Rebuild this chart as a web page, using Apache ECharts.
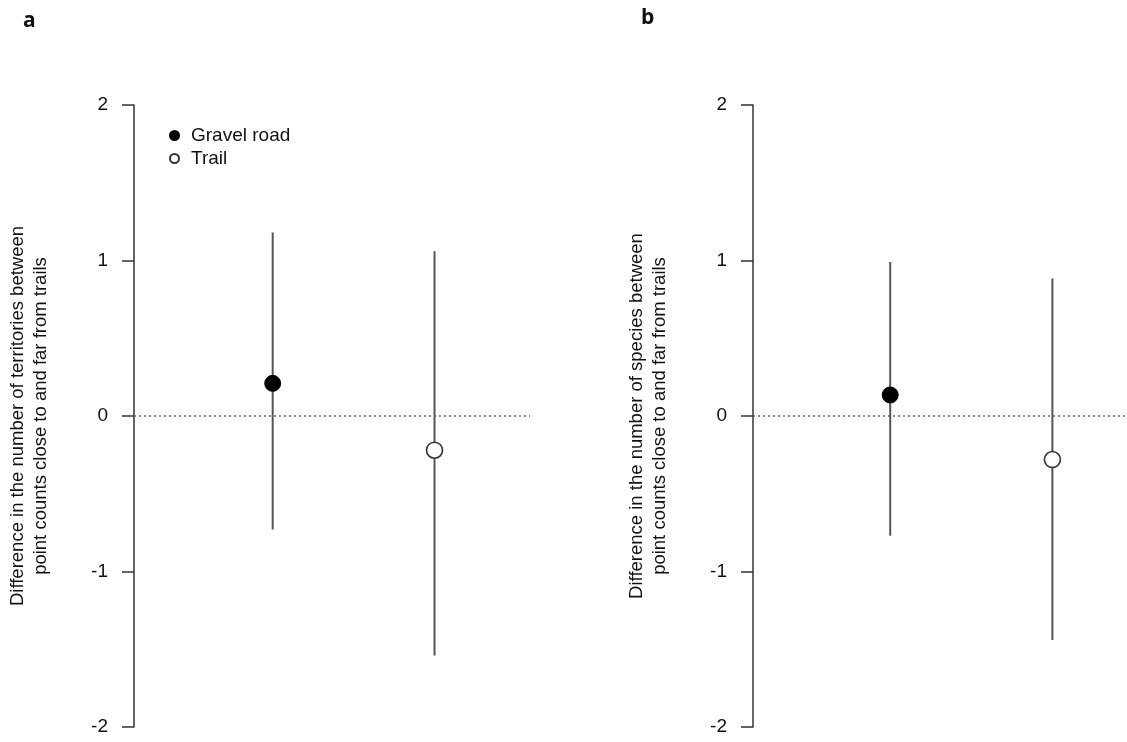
<!DOCTYPE html>
<html>
<head>
<meta charset="utf-8">
<script src="https://cdn.jsdelivr.net/npm/echarts@6/dist/echarts.min.js"></script>
<style>
html,body{margin:0;padding:0;background:#fff;}
#chart{width:1127px;height:742px;}
</style>
</head>
<body>
<div id="chart"></div>
<script>
// ---- data ----
const groups = ['Gravel road', 'Trail'];
const groupX = [1, 2];
const yTicks = [-2, -1, 0, 1, 2];
const panelLabels = ['a', 'b'];
const yTitles = [
  'Difference in the number of territories between\npoint counts close to and far from trails',
  'Difference in the number of species between\npoint counts close to and far from trails'
];
const territoriesMean = [0.21, -0.22];
const territoriesLow = [-0.73, -1.54];
const territoriesHigh = [1.18, 1.06];
const speciesMean = [0.135, -0.28];
const speciesLow = [-0.77, -1.44];
const speciesHigh = [0.99, 0.885];

const FONT = '"Liberation Sans", Arial, sans-serif';
const panels = [
  {mean: territoriesMean, low: territoriesLow, high: territoriesHigh, xmin: 0.143, xmax: 2.59},
  {mean: speciesMean, low: speciesLow, high: speciesHigh, xmin: 0.154, xmax: 2.46}
];
const grids = [
  {left: 134, top: 105, width: 396, height: 622},
  {left: 753, top: 105, width: 374, height: 622}
];

const xAxes = [], yAxes = [], series = [];
panels.forEach((p, i) => {
  xAxes.push({gridIndex: i, type: 'value', min: p.xmin, max: p.xmax, show: false});
  yAxes.push({
    gridIndex: i, type: 'value', min: yTicks[0], max: yTicks[yTicks.length - 1], interval: 1,
    name: yTitles[i], nameLocation: 'middle', nameGap: 82,
    nameTextStyle: {fontFamily: FONT, fontSize: 18.5, color: '#111', lineHeight: 23},
    axisLine: {show: true, lineStyle: {color: '#333', width: 1.5}},
    axisTick: {show: true, length: 12, lineStyle: {color: '#333', width: 1.5}},
    axisLabel: {fontFamily: FONT, fontSize: 19, color: '#111', margin: 26},
    splitLine: {show: false}
  });
  // zero reference line
  series.push({
    type: 'line', xAxisIndex: i, yAxisIndex: i, silent: true, symbol: 'none',
    data: [[p.xmin, 0], [p.xmax, 0]],
    lineStyle: {color: '#666', width: 1.5, type: [2, 3]}, z: 1
  });
  // error bars
  series.push({
    type: 'custom', xAxisIndex: i, yAxisIndex: i, silent: true, z: 2,
    data: groupX.map((x, k) => [x, p.low[k], p.high[k]]),
    encode: {x: 0, y: [1, 2]},
    renderItem: function (params, api) {
      const a = api.coord([api.value(0), api.value(1)]);
      const b = api.coord([api.value(0), api.value(2)]);
      return {type: 'line', shape: {x1: a[0], y1: a[1], x2: b[0], y2: b[1]},
        style: {stroke: '#555', lineWidth: 2}};
    }
  });
  // points
  series.push({
    name: groups[0], type: 'scatter', xAxisIndex: i, yAxisIndex: i, z: 3,
    symbol: 'circle', symbolSize: 16,
    itemStyle: {color: '#000', borderColor: '#000', borderWidth: 1, opacity: 1},
    data: [[groupX[0], p.mean[0]]]
  });
  series.push({
    name: groups[1], type: 'scatter', xAxisIndex: i, yAxisIndex: i, z: 3,
    symbol: 'circle', symbolSize: 16,
    itemStyle: {color: '#fff', borderColor: '#333', borderWidth: 1.6, opacity: 1},
    data: [[groupX[1], p.mean[1]]]
  });
});

const chart = echarts.init(document.getElementById('chart'), null, {renderer: 'canvas'});
chart.setOption({
  backgroundColor: '#fff',
  animation: false,
  title: [
    {text: panelLabels[0], left: 18, top: 6, textStyle: {fontFamily: '"Open Sans", "DejaVu Sans", sans-serif', fontSize: 21, fontWeight: 'bold', color: '#111'}},
    {text: panelLabels[1], left: 636, top: 3, textStyle: {fontFamily: '"Open Sans", "DejaVu Sans", sans-serif', fontSize: 21, fontWeight: 'bold', color: '#111'}}
  ],
  legend: {
    data: groups, orient: 'vertical', left: 164, top: 121,
    icon: 'circle', itemWidth: 9, itemHeight: 9, itemGap: 4,
    textStyle: {fontFamily: FONT, fontSize: 19, color: '#111', padding: [0, 0, 0, 7]},
    selectedMode: false
  },
  grid: grids,
  xAxis: xAxes,
  yAxis: yAxes,
  series: series
});
</script>
</body>
</html>
